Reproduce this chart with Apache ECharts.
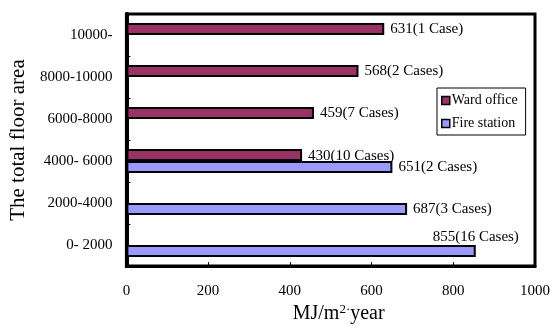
<!DOCTYPE html>
<html>
<head>
<meta charset="utf-8">
<style>
  html, body { margin: 0; padding: 0; background: #fff; overflow: hidden; }
  #chart { width: 553px; height: 329px; }
</style>
<script src="https://cdn.jsdelivr.net/npm/echarts@6/dist/echarts.min.js"></script>
</head>
<body>
<div id="chart"></div>
<script>
// Floor-area classes, bottom to top
const categories = ['0- 2000', '2000-4000', '4000- 6000', '6000-8000', '8000-10000', '10000-'];

// Energy use intensity (MJ/m2·year) and number of buildings per class
const wardValues = [null, null, 430, 459, 568, 631];
const wardCases  = [null, null, 10, 7, 2, 1];
const fireValues = [855, 687, 651, null, null, null];
const fireCases  = [16, 3, 2, null, null, null];

const xTicks = [0, 200, 400, 600, 800, 1000];

const SERIF = '"Liberation Serif", "Times New Roman", serif';

function caseLabel(v, n) {
  return v + '(' + n + (n === 1 ? ' Case' : ' Cases') + ')';
}

function buildData(values, cases, special) {
  return values.map((v, i) => {
    if (v === null) return { value: null };
    const item = { value: v, cases: cases[i] };
    if (special[i]) item.label = special[i];
    return item;
  });
}

const wardData = buildData(wardValues, wardCases, {
  2: { offset: [0, 1] }
});
const fireData = buildData(fireValues, fireCases, {
  0: { position: 'right', align: 'center', distance: 0, offset: [0, -14] }
});

const barLabel = {
  show: true,
  position: 'right',
  distance: 6,
  color: '#000',
  fontFamily: SERIF,
  fontSize: 15,
  formatter: p => caseLabel(p.value, p.data.cases)
};

const chart = echarts.init(document.getElementById('chart'), null, { renderer: 'canvas', width: 553, height: 329 });

chart.setOption({
  animation: false,
  backgroundColor: '#fff',
  textStyle: { fontFamily: SERIF, color: '#000' },
  grid: {
    left: 125, top: 14, width: 415, height: 258,
    show: true, borderColor: '#000', borderWidth: 3, backgroundColor: '#fff'
  },
  legend: {
    orient: 'vertical',
    left: 437, top: 88,
    padding: [5, 8, 4, 4],
    backgroundColor: '#fff',
    borderColor: '#000',
    borderWidth: 1,
    itemWidth: 8, itemHeight: 8, itemGap: 8,
    icon: 'rect',
    itemStyle: { borderColor: '#000', borderWidth: 1.5 },
    textStyle: { fontFamily: SERIF, fontSize: 14, color: '#000', lineHeight: 15, padding: [0, 0, 0, -3] },
    data: ['Ward office', 'Fire station']
  },
  xAxis: {
    type: 'value',
    min: xTicks[0], max: xTicks[xTicks.length - 1], interval: 200,
    name: 'MJ/m{sup|2·}year',
    nameLocation: 'middle',
    nameGap: 35,
    nameTextStyle: {
      fontFamily: SERIF, fontSize: 20, color: '#000',
      padding: [0, 0, 0, 16],
      rich: { sup: { fontFamily: SERIF, fontSize: 13, verticalAlign: 'top', padding: [0, 0, 9, 0] } }
    },
    axisLine: { show: true, lineStyle: { color: '#000', width: 3 } },
    axisTick: { show: true, inside: true, length: 4, lineStyle: { color: '#000', width: 1 } },
    axisLabel: { margin: 17, fontFamily: SERIF, fontSize: 15, color: '#000', formatter: v => String(v) },
    splitLine: { show: false }
  },
  yAxis: {
    type: 'category',
    data: categories,
    name: 'The total floor area',
    nameLocation: 'middle',
    nameGap: 97,
    nameTextStyle: { fontFamily: SERIF, fontSize: 21, color: '#000' },
    axisLine: { show: true, lineStyle: { color: '#000', width: 4 } },
    axisTick: { show: true, inside: true, length: 4, lineStyle: { color: '#000', width: 1 } },
    axisLabel: { margin: 14, fontFamily: SERIF, fontSize: 15, color: '#000' },
    splitLine: { show: false }
  },
  series: [
    {
      name: 'Ward office',
      type: 'bar',
      data: wardData,
      barWidth: 12,
      barGap: '0%',
      itemStyle: { color: '#993366', borderColor: '#000', borderWidth: 2 },
      label: barLabel
    },
    {
      name: 'Fire station',
      type: 'bar',
      data: fireData,
      barWidth: 12,
      barGap: '0%',
      itemStyle: { color: '#9999FF', borderColor: '#000', borderWidth: 2 },
      label: barLabel
    }
  ]
});
</script>
</body>
</html>
